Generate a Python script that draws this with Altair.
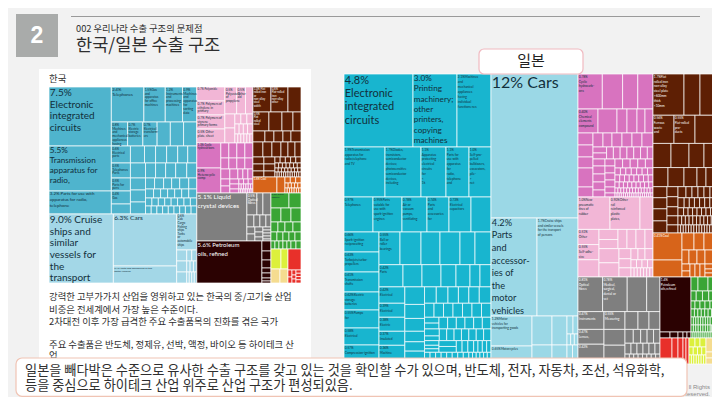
import altair as alt
import pandas as pd

# colours
TEAL_K, SKY_K = "#4fb4cd", "#a3d7e7"
TEAL_J, SKY_J = "#18b5cf", "#9bd8e6"
PINK, MAG = "#f2b6d6", "#d873bf"
BROWN, ORANGE = "#5e1f04", "#d7641a"
GREY, MAROON = "#7f7f7f", "#2b0202"
GREEN, RED, LIME, SAND = "#3aa535", "#e8302a", "#dcf03c", "#f5dc90"


def R(w, kids):
    return ("H", w, kids)


def C(w, kids):
    return ("V", w, kids)


def L(w, txt, size=3.2, lh=None):
    return ("L", w, txt, size, lh if lh else size * 1.2)


# ---------- Korea: weights ----------
kr_teal = R(127, [
    C(62, [
        L(59, "7.5%|Electronic|integrated|circuits", 10, 11.7),
        L(45, "5.5%|Transmission|apparatus for|radio,", 8.2, 10),
        L(23, "3.2% Parts for use with|apparatus for radio,|telephone", 4.4, 6),
    ]),
    C(85, [
        R(35, [L(32, "2.4%|Telephones", 4.2, 5), L(21, "1.5%Gas|and|apparatus|for office|machines"),
               L(17, "1.2%|Instruments|and|processing|machines"), L(14, "0.9%|Machines|and|apparatus|for|sorting|data")]),
        R(24, [L(16, "0.8%|Machines|and|mechanical|appliances|having"), L(15, "0.7%|Electric|storage|batteries"),
               L(14, "0.7%|Electrical|transform-|ers"), 13, 13, 13]),
        R(68, [
            C(19, [L(17, "0.6%|Electrical|parts"), L(15, "0.5%|Telephones|Parts"), L(13, "0.5%|Parts for|pens"),
                   L(13, "0.4%|Gas"), 10]),
            C(66, [
                R(17, [14, 11, 11, 11, 10, 9]),
                R(15, [15, 10, 10, 10, 11, 10]),
                R(36, [
                    C(15, [12, 12, 12]),
                    C(51, [R(11, [9, 9, 8, 8, 9, 8]), R(9, [8, 7, 7, 7, 7, 7, 8]),
                           R(8, [6, 6, 6, 6, 6, 6, 6, 6]), R(8, [5, 5, 5, 5, 5, 5, 5, 5, 5])]),
                ]),
            ]),
        ]),
    ]),
])
kr_sky = R(69, [
    L(64, "9.0% Cruise|ships and|similar|vessels for|the|transport", 10, 11.7),
    C(63, [L(52, "6.3% Cars", 6.5), L(17, "2.1% Parts and accessories of the|motor vehicles", 2.6)]),
    C(20, [
        L(36, "0.6%|Cab|Cargo|Fishing|ships|Tanks|or|automobile|ships", 3),
        R(33, [C(10, [11, 11, 11]), C(10, [R(11, [6, 6]), R(11, [4, 4, 4]), R(11, [3, 3, 3, 3])])]),
    ]),
])
kr_pink = R(56, [
    C(28, [L(14, "0.7% Polyamide", 2.8), L(14, "0.7% Polymers of|ethylene in|primary"),
           L(14, "0.7% Polymers of|styrene|primary forms"), L(14, "0.5% Other|plate, sheet")]),
    C(28, [
        R(27, [L(16, "0.5%|Polyesters|of|propylene"), L(12, "0.5%|Other|ald"), 10]),
        R(29, [C(10, [14, 15]), C(18, [R(10, [6, 6, 6]), R(10, [4, 4, 4, 5]), R(9, [3, 3, 3, 3, 3, 3])])]),
    ]),
])
kr_mag = R(50, [
    C(24, [L(25, "1.3% Cyclic|hydrocarbons", 2.8), L(25, "0.9%|Heterocyclic|comp")]),
    C(32, [
        R(15, [8, 8, 8, 8]),
        R(11, [8, 8, 8, 8]),
        R(10, [9, 8, 5, 5, 5]),
        R(14, [C(9, [7, 7]), C(9, [5, 5, 4]), C(14, [R(5, [4, 4, 4]), R(5, [2, 2, 2, 2, 2, 2]), R(4, [1, 1, 1, 1, 1, 1, 1, 1])])]),
    ]),
])
kr_brown = C(48, [
    R(25, [L(18, "1.0% Flat|rolled iron|or|non-alloy|steel|width", 2.8), L(17, "0.8%|Flat-rolled|iron|non-alloy|other", 2.8), 13]),
    R(19, [L(16, "0.5%|Flat|rolled|steel", 2.8), 13, 11, 8]),
    R(11, [12, 9, 9, 8, 10]),
    R(15, [10, 9, 9, 7, 7, 6]),
    R(20, [
        C(11, [7, 7, 6]),
        C(11, [7, 7, 6]),
        C(26, [R(6, [5, 5, 5, 5, 5]), R(5, [3, 3, 3, 3, 3, 3, 3]), R(4, [2, 2, 2, 2, 2, 2, 2, 2]),
               R(5, [1, 1, 1, 1, 1, 1, 1, 1, 1, 1, 1, 1])]),
    ]),
])
kr_orange = R(16, [L(24, "1.6% Coal", 2.8), 8, C(16, [R(6, [5, 5, 5]), R(5, [3, 3, 3, 3, 3]), R(5, [2, 2, 2, 2, 2, 2, 2])])])
kr_grey = R(48, [
    L(50, "5.1% Liquid|crystal devices", 6.5, 9),
    C(24, [
        R(22, [L(10, "0.5%|Optical|fibres"), 6, 8]),
        R(12, [7, 6, 6, 5]),
        R(14, [C(8, [7, 7]), C(8, [5, 5, 4]), C(8, [3, 3, 3, 3, 2])]),
    ]),
])
kr_maroon = R(42, [
    L(65, "5.6% Petroleum|oils, refined", 6, 9),
    C(9, [10, 9, 8, 5, 5, 3, 2]),
])
kr_green = C(56, [
    R(15, [L(18, "0.5% Other|apparel", 2.4), 12]),
    R(14, [10, 10, 10]),
    R(10, [7, 7, 8, 8]),
    R(9, [6, 6, 6, 6, 6]),
    R(8, [4, 4, 4, 4, 4, 5, 5]),
])
kr_red = C(13, [R(21, [13]), R(13, [C(4, [7, 6]), C(4, [5, 4, 4]), C(5, [3, 3, 3, 3])])])

korea = R(196, [
    C(147.5, [kr_teal, kr_sky]),
    C(104, [
        R(106, [
            C(56, [("G", PINK, R(56, [kr_pink])), ("G", MAG, R(50, [kr_mag]))]),
            C(48, [("G", BROWN, R(90, [kr_brown])), ("G", ORANGE, R(16, [kr_orange]))]),
        ]),
        R(90, [
            C(74, [("G", GREY, R(48, [kr_grey])), ("G", MAROON, R(42, [kr_maroon]))]),
            C(30, [("G", GREEN, R(56, [kr_green])),
                   R(34, [C(17, [("G", LIME, R(20, [10, 7])), ("G", SAND, R(14, [9, 8]))]),
                          ("G", RED, R(13, [kr_red]))])]),
        ]),
    ]),
])

# ---------- Japan: weights ----------
jp_teal = C(147, [
    R(73, [L(69, "4.8%|Electronic|integrated|circuits", 11, 13.3), L(44, "3.0%|Printing|machinery;|other|printers,|copying|machines", 8.2, 10.4),
           L(34, "2.1%Machines|and|mechanical|appliances|having|individual|functions nes", 3.2, 5)]),
    R(50, [L(41, "1.9%Transmission|apparatus for|radio,telephone|and TV", 3.2, 4.8), L(36, "1.7%Diodes,|transistors,|semiconductor|devices;|photosensitive|semiconductor|devices,|including", 3.2, 4.8),
           L(25, "1.1%|Apparatus|protecting|electrical|circuits|for|<|1k", 3.2, 4.8), L(23, "1.1%|Parts for|use with|apparatus|for|radio,|telephone|and", 3.2, 4.8),
           L(22, "1.0%|Self-pro-|pelled|bulldozers,|excavators,|pile-|>|net", 3.2, 4.8)]),
    R(35, [L(29, "0.97%|Telephones", 3.2, 4.8), L(29, "0.95%Parts|suitable for|use with|spark-ignition|engines", 3.2, 4.8), L(25, "0.78%|Air or|vacuum|pumps,|ventilating", 3.2, 4.8),
           L(22, "0.74%|Parts|and|accessories|for", 3.2, 4.8), L(22, "0.73%|Electrical|capacitors", 3.2, 4.8), 20]),
    R(132, [
        C(35, [L(20, "0.66%|Spark-ignition|reciprocating", 3.2, 4.8), L(20, "0.63%|Turbojets,turbo-|propellers", 3.2, 4.8), L(20, "0.61%|Transmission|shafts", 3.2, 4.8),
               L(18, "0.62%Electric|storage|batteries", 3.2, 4.8), L(18, "0.55%Pumps|for", 3.2, 4.8), L(17, "0.58%|Electrical", 3.2, 4.8), L(19, "0.57%|Compression-ignition", 3.2, 4.8)]),
        C(112, [
            R(28, [L(21, "0.55%|Ball or|roller|bearings", 3.2, 4.8), 21, 19, 20, 15, 16]),
            R(19, [L(24, "0.42%|Parts", 3.2, 4.8), 19, 19, 15, 14, 10, 11]),
            R(66, [
                C(21, [L(14, "0.42%|Electrical", 3.2, 4.8), L(12, "0.39%|Electrical", 3.2, 4.8), L(12, "0.38%|Electric", 3.2, 4.8), L(12, "0.37%|Insulated", 3.2, 4.8), L(16, "0.36%|Machine", 3.2, 4.8)]),
                C(16, [15, 12, 11, 9, 8, 11]),
                C(54, [
                    R(14, [9, 9, 8, 8, 8, 9]),
                    R(12, [7, 7, 7, 7, 7, 7, 7]),
                    R(10, [C(10, [5, 5]), 6, 6, 6, 6, 6, 6]),
                    R(10, [C(10, [6, 4]), 5, 5, 5, 5, 5, 5, 5]),
                    R(10, [C(10, [4, 3, 3]), C(12, [5, 5]), 4, 4, 4, 3, 3, 3, 3]),
                    R(10, [3, 3, 3, 3, 3, 3, 3, 3, 2, 2, 2, 2, 2, 2]),
                ]),
            ]),
        ]),
    ]),
])
jp_sky = C(87, [
    L(144, "12% Cars", 16, 18),
    R(98, [L(46, "4.2%|Parts|and|accessor-|ies of|the|motor|vehicles", 9.2, 12.6),
           L(41, "1.7%Cruise ships|and similar vessels|for the transport|of persons", 3.2, 4.8)]),
    R(48, [
        C(41, [L(30, "1.2%Motor|vehicles for|transporting goods", 3.2, 4.8), L(18, "0.65%Motorcycles", 3.2, 4.8)]),
        C(20, [29, 19]),
        C(15, [29, 19]),
        C(11, [R(18, [6, 5]), R(11, [3, 3, 3]), R(19, [8, 8])]),
    ]),
])
jp_mag = C(75, [
    R(35, [L(24, "0.78%|Cyclic|hydrocarb-|ons", 3.2, 4.8), 20, 15, 15]),
    R(24, [L(20, "0.40%|Chemical|elements|compound", 3.2, 4.8), 19, 10, 10, 8, 8]),
    R(64, [
        C(15, [12, 12, 11, 19, 10]),
        C(60, [
            R(14, [10, 9, 10, 10, 10, 11]),
            R(12, [C(12, [6, 6]), 6, 6, 6, 6, 6, 6, 5]),
            R(38, [
                C(12, [7, 8, 8, 8, 7]),
                C(10, [7, 7, 7, 7, 6, 4]),
                C(38, [R(9, [7, 7, 7, 7, 7]), R(7, [5, 5, 5, 5, 5, 5, 5]), R(7, [4, 4, 4, 4, 4, 4, 4, 4]),
                       R(6, [3, 3, 3, 3, 3, 3, 3, 3, 3]), R(5, [2, 2, 2, 2, 2, 2, 2, 2, 2, 2, 2, 2, 2]), R(4, [1, 1, 1, 1, 1, 1, 1, 1, 1, 1, 1, 1, 1, 1, 1, 1, 1, 1])]),
            ]),
        ]),
    ]),
])
jp_pink = C(75, [
    R(32, [L(32, "1.0%New|pneumatic|tires of|rubber", 3.2, 4.8), L(30, "0.90%Other|rail|reinforced|plastic|plates,", 3.2, 4.8), 13]),
    R(47, [
        C(21, [L(15, "0.51%|Other", 3.2, 4.8), L(15, "0.55%|Self-adhe-|sive", 3.2, 4.8), 17]),
        C(54, [
            R(19, [C(19, [10, 9]), 9, 9, 9, 8]),
            R(28, [C(20, [14, 14]), C(12, [10, 9, 9]), C(22, [R(11, [7, 7, 8]), R(8, [5, 5, 5, 5]), R(9, [3, 3, 3, 3, 3, 3, 3])])]),
        ]),
    ]),
])
jp_brown = C(62, [
    R(41, [L(31, "1.7%Flat|rolled iron|non-alloy|steel plate|>600mm|thick|<10mm", 3.2, 4.8), 16, 15]),
    R(28, [L(21, "0.56%|Ferrous|waste|and", 3.2, 4.8), L(21, "0.55%|Flat-rolled|pro-|ducts", 3.2, 4.8), 20]),
    R(24, [18, 18, 15, 11]),
    R(19, [15, 16, 13, 9, 9]),
    R(46, [
        C(14, [11, 11, 12, 12]),
        C(11, [10, 10, 9, 9, 8]),
        C(37, [R(11, [8, 6, 6, 6, 6, 5]), R(10, [6, 5, 5, 5, 5, 5, 5]), R(8, [5, 4, 4, 4, 4, 4, 4, 4]),
               R(9, [3, 3, 3, 3, 3, 3, 3, 3, 3, 3]), R(8, [2, 2, 2, 2, 2, 2, 2, 2, 2, 2, 2, 2, 2, 2])]),
    ]),
])
jp_orange = R(44, [
    C(29, [L(27, "0.41%Coal", 3.2), 17]),
    C(33, [R(17, [12, 10, 11]), R(14, [7, 8, 8, 10]), R(13, [C(8, [7, 6]), 5, 5, 5, C(10, [5, 4, 4])])]),
])
jp_grey = C(82, [
    R(35, [L(24, "0.81%|Optical|fibres", 3.2, 4.8), L(24, "0.78%|Medical,|surgical,|dental or|vet", 3.2, 4.8), 19, 13]),
    R(18, [L(26, "0.47%|Instruments", 3.2, 4.8), L(21, "0.55%|Measuring", 3.2, 4.8), 13, 11, 11]),
    R(35, [
        C(26, [L(15, "0.47%|Lenses,", 3.2, 4.8), L(20, "0.42%", 3.2, 4.8)]),
        C(21, [16, 19]),
        C(35, [R(14, [9, 8, 7, 7, 7]), R(11, [6, 6, 6, 6, 6, 5]), R(10, [4, 4, 4, 4, 4, 4, 4, 4])]),
    ]),
])
jp_maroon = C(31, [
    L(55, "1.4%|Petroleum|oils,refined", 3.2, 4.8),
    R(6, [10, 8, 5, 4, 4]),
])
jp_green = C(24, [
    R(14, [7, 10, 7]),
    R(10, [5, 6, 6, 6]),
    R(8, [4, 5, 5, 5, 5]),
    R(8, [3, 3, 3, 3, 3, 3, 3]),
    R(8, [2, 2, 2, 2, 2, 2, 2, 2, 2, 2]),
    R(7, [2, 2, 2, 2, 2, 2, 2, 2, 1, 1, 1, 1]),
    R(6, [1, 1, 1, 1, 1, 1, 1, 1, 1, 1, 1, 1]),
])
jp_red = R(26, [12, 6, 5, 3, 3])
jp_lime = C(17, [R(9, [6, 5, 6]), R(8, [4, 4, 4, 4]), R(9, [2, 2, 2, 2, 2, 2, 2])])
jp_sand = C(9, [14, 6, 6])

japan = R(290, [
    ("G", TEAL_J, C(147, [jp_teal])),
    ("G", SKY_J, C(87, [jp_sky])),
    C(137, [
        R(203, [
            C(75, [("G", MAG, R(123, [jp_mag])), ("G", PINK, R(80, [jp_pink]))]),
            C(62, [("G", BROWN, R(159, [jp_brown])), ("G", ORANGE, R(44, [jp_orange]))]),
        ]),
        R(87, [
            ("G", GREY, C(82, [jp_grey])),
            C(55, [
                R(61, [("G", MAROON, C(31, [jp_maroon])), ("G", GREEN, C(24, [jp_green]))]),
                R(26, [("G", RED, C(29, [jp_red])), ("G", LIME, C(17, [jp_lime])), ("G", SAND, C(9, [jp_sand]))]),
            ]),
        ]),
    ]),
])

korea_root = ("G", TEAL_K, korea)
SKY_OVERRIDE = {id(kr_sky): SKY_K}

cells, labels = [], []


def weight(n):
    if isinstance(n, (int, float)):
        return n
    if n[0] == "G":
        return weight(n[2])
    return n[1]


def place(n, x0, y0, x1, y1, color):
    if id(n) in SKY_OVERRIDE:
        color = SKY_OVERRIDE[id(n)]
    if isinstance(n, (int, float)) or n[0] == "L":
        cells.append({"x": x0, "x2": x1, "y": y0, "y2": y1, "c": color})
        if not isinstance(n, (int, float)):
            ink = "#ffffff" if color in (BROWN, GREY, MAROON, ORANGE) else "#12303c"
            for i, line in enumerate(n[2].split("|")):
                labels.append({"x": x0 + 0.8, "y": y0 + 0.8 + i * n[4], "t": line, "s": n[3], "k": ink})
        return
    if n[0] == "G":
        place(n[2], x0, y0, x1, y1, n[1])
        return
    kids = n[2]
    tot = sum(weight(k) for k in kids)
    pos = x0 if n[0] == "H" else y0
    span = (x1 - x0) if n[0] == "H" else (y1 - y0)
    for k in kids:
        nxt = pos + span * weight(k) / tot
        if n[0] == "H":
            place(k, pos, y0, nxt, y1, color)
        else:
            place(k, x0, pos, x1, nxt, color)
        pos = nxt


place(korea_root, 49, 87, 301, 283, TEAL_K)
place(japan, 344, 74, 715, 364, TEAL_J)

X = alt.Scale(domain=[8, 712], nice=False, zero=False)
Y = alt.Scale(domain=[397, 8], nice=False, zero=False)
ex = dict(x=alt.X("x:Q", scale=X, axis=None), y=alt.Y("y:Q", scale=Y, axis=None))


def box(rows, **kw):
    return alt.Chart(pd.DataFrame(rows)).mark_rect(**kw).encode(
        x=alt.X("x:Q", scale=X, axis=None), x2="x2:Q",
        y=alt.Y("y:Q", scale=Y, axis=None), y2="y2:Q")


def korean(rows, size, **kw):
    return alt.Chart(pd.DataFrame(rows)).mark_text(
        font="Noto Sans CJK KR", fontSize=size, align="left", baseline="middle", color="#2f2f2f", **kw
    ).encode(x=alt.X("x:Q", scale=X, axis=None), y=alt.Y("y:Q", scale=Y, axis=None), text="t:N")


square = box([{"x": 16, "x2": 58, "y": 14, "y2": 57}], color="#a9abaa")
panel = box([{"x": 39, "x2": 311, "y": 69, "y2": 362}], color="#ffffff")
top_rule = alt.Chart(pd.DataFrame([{"x": 71, "x2": 700, "y": 16.5}])).mark_rule(color="#9a9a9a", strokeWidth=1).encode(
    x=alt.X("x:Q", scale=X, axis=None), x2="x2:Q", y=alt.Y("y:Q", scale=Y, axis=None))

tree = alt.Chart(pd.DataFrame(cells)).mark_rect(stroke="#ffffff", strokeWidth=0.7).encode(
    x=alt.X("x:Q", scale=X, axis=None), x2="x2:Q",
    y=alt.Y("y:Q", scale=Y, axis=None), y2="y2:Q",
    color=alt.Color("c:N", scale=None))

tree_text = alt.Chart(pd.DataFrame(labels)).mark_text(
    font="Lato", align="left", baseline="top"
).encode(
    x=alt.X("x:Q", scale=X, axis=None), y=alt.Y("y:Q", scale=Y, axis=None), text="t:N",
    size=alt.Size("s:Q", scale=None), color=alt.Color("k:N", scale=None))

callout = box([{"x": 16, "x2": 687, "y": 358, "y2": 396.3}], color="#ffffff", stroke="#f0c4b4", strokeWidth=1.2, cornerRadius=6)
jp_box = box([{"x": 479, "x2": 583, "y": 49, "y2": 74}], color="#ffffff", stroke="#f0b9c0", strokeWidth=1.2, cornerRadius=5)

numeral = alt.Chart(pd.DataFrame([{"x": 37, "y": 36, "t": "2"}])).mark_text(
    font="Liberation Sans", fontSize=23, fontWeight="bold", color="#ffffff", align="center", baseline="middle"
).encode(**ex, text="t:N")

sub = korean([{"x": 76, "y": 29, "t": "002 우리나라 수출 구조의 문제점"}], 9.3)
title = korean([{"x": 76, "y": 46, "t": "한국/일본 수출 구조"}], 17.6)
kr_head = korean([{"x": 49, "y": 79, "t": "한국"}], 9.4)
body = korean([
    {"x": 49, "y": 297, "t": "강력한 고부가가치 산업을 영위하고 있는 한국의 중/고기술 산업"},
    {"x": 49, "y": 309.5, "t": "비중은 전세계에서 가장 높은 수준이다."},
    {"x": 49, "y": 321.5, "t": "2차대전 이후 가장 급격한 주요 수출품목의 진화를 겪은 국가"},
    {"x": 49, "y": 345, "t": "주요 수출품은 반도체, 정제유, 선박, 액정, 바이오 등 하이테크 산"},
    {"x": 49, "y": 356, "t": "업"},
], 9.4)
call_txt = korean([
    {"x": 25, "y": 371, "t": "일본을 빼다박은 수준으로 유사한 수출 구조를 갖고 있는 것을 확인할 수가 있으며, 반도체, 전자, 자동차, 조선, 석유화학,"},
    {"x": 25, "y": 385.5, "t": "등을 중심으로 하이테크 산업 위주로 산업 구조가 편성되있음."},
], 13.2)
jp_txt = alt.Chart(pd.DataFrame([{"x": 531, "y": 61, "t": "일본"}])).mark_text(
    font="Noto Sans CJK KR", fontSize=15, color="#222222", align="center", baseline="middle"
).encode(**ex, text="t:N")
foot = alt.Chart(pd.DataFrame([{"x": 710, "y": 387, "t": "ll Rights"}, {"x": 710, "y": 393.5, "t": "Reserved."}])).mark_text(
    font="Liberation Sans", fontSize=6, color="#8a8a8a", align="right", baseline="middle"
).encode(**ex, text="t:N")

chart = alt.layer(
    square, top_rule, numeral, sub, title, panel, kr_head, tree, tree_text, body,
    jp_box, jp_txt, foot, callout, call_txt
).properties(width=704, height=389, background="#f2f2f2", padding=0,
             autosize=alt.AutoSizeParams(type="none")
).configure_view(stroke=None)

chart.save("out.html", embed_options={"renderer": "svg", "actions": False})
